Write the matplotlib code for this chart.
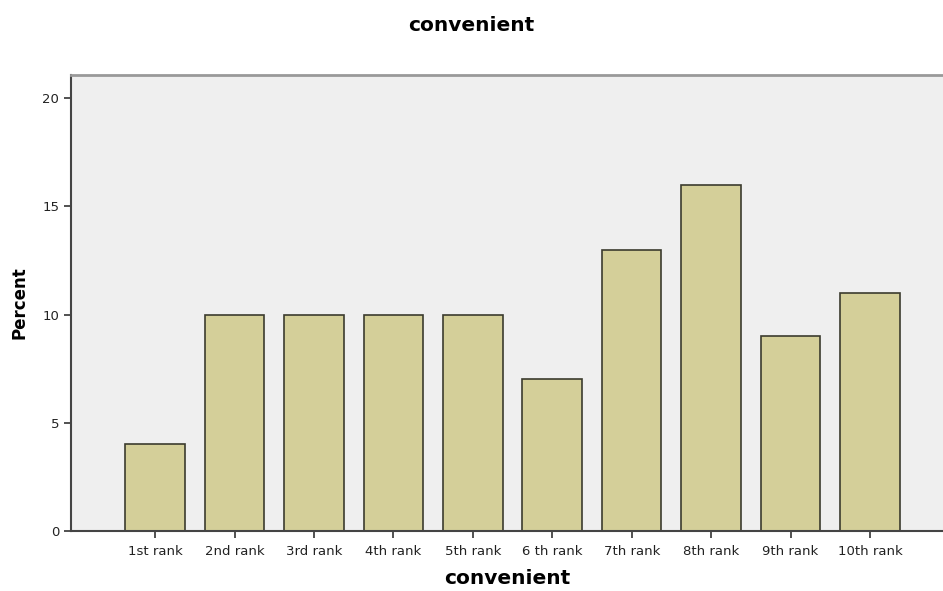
import numpy as np
import matplotlib.pyplot as plt

CATEGORIES = ["1st rank", "2nd rank", "3rd rank", "4th rank", "5th rank",
              "6 th rank", "7th rank", "8th rank", "9th rank", "10th rank"]
PERCENT = [4, 10, 10, 10, 10, 7, 13, 16, 9, 11]
Y_TICKS = [0, 5, 10, 15, 20]

fig = plt.figure(figsize=(9.43, 5.91), dpi=100)
ax = fig.add_axes([0.0753, 0.1015, 0.9247, 0.7715])
ax.set_facecolor("#efefef")

x = np.arange(len(CATEGORIES))
ax.bar(x, PERCENT, width=0.75, color="#d4cf99", edgecolor="#3b3b2e", lw=1.2, zorder=2)

ax.set_xlim(-1.06, 9.92)
ax.set_ylim(0, 21.06)
ax.set_xticks(x)
ax.set_xticklabels(CATEGORIES, fontsize=9.5, color="#222222")
ax.set_yticks(Y_TICKS)
ax.tick_params(axis="both", direction="out", length=5, width=1.2, color="#333333",
               labelsize=9.5, labelcolor="#222222")
ax.tick_params(axis="x", pad=5)

ax.spines["right"].set_visible(False)
ax.spines["top"].set_color("#999999")
ax.spines["top"].set_linewidth(2)
for s in ["left", "bottom"]:
    ax.spines[s].set_color("#444444")
    ax.spines[s].set_linewidth(1.5)

ax.set_xlabel("convenient", fontsize=14.5, fontweight="bold", labelpad=8)
ax.set_ylabel("Percent", fontsize=12, fontweight="bold", labelpad=10)
fig.text(0.5, 0.957, "convenient", ha="center", va="center", fontsize=14.5, fontweight="bold")

plt.savefig("out.png", dpi=100)
